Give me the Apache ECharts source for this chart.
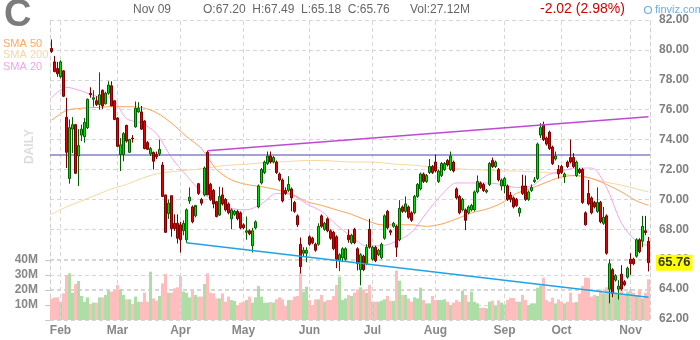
<!DOCTYPE html>
<html><head><meta charset="utf-8">
<script src="https://cdn.jsdelivr.net/npm/echarts/dist/echarts.min.js"></script>
<style>html,body{margin:0;padding:0;background:#fff}#c{width:700px;height:340px}</style>
</head><body><div id="c"></div>
<script>
// ---- data (Citigroup daily, Jan 29 – Nov 9) ----
const opens=[80.1,79.2,78.75,78.2,78.6,75.5,71.4,74.7,75.0,72.9,
74.3,74.2,74.8,77.1,76.7,76.6,76.35,77.3,76.4,77.1,
77.6,76.6,75.45,73.0,73.0,74.95,73.15,74.1,74.85,75.85,
75.85,75.25,73.8,73.05,73.15,73.0,73.05,72.3,70.3,69.05,
70.25,68.4,68.4,68.3,67.9,67.3,69.9,69.5,68.9,71.05,
70.0,70.3,73.15,71.0,70.6,69.85,68.95,70.3,70.0,69.7,
68.7,69.0,69.2,69.1,68.3,67.8,67.9,66.9,68.1,69.5,
71.1,71.8,72.4,72.9,72.5,72.5,71.7,71.3,70.6,70.6,
70.7,69.8,68.9,67.0,66.4,66.4,67.5,67.4,67.0,67.0,
68.9,68.0,68.7,67.9,67.8,67.5,65.9,66.1,66.0,67.6,
67.1,68.0,66.7,65.3,66.2,65.7,68.0,66.0,66.8,66.3,
66.1,67.4,69.2,67.9,68.2,68.2,67.3,69.5,69.2,69.5,
69.1,69.1,70.2,70.7,71.7,71.2,71.8,72.2,72.5,71.2,
71.6,72.0,72.6,72.0,72.5,70.7,70.2,69.3,69.3,69.1,
69.3,69.3,70.5,71.1,71.0,70.5,71.0,72.6,72.2,72.0,
70.9,70.9,70.9,70.3,70.1,70.0,69.1,70.9,70.9,70.0,
70.6,71.2,71.4,74.3,75.0,74.1,74.5,73.5,72.7,72.0,
72.2,71.5,72.5,72.8,72.8,71.6,72.0,72.0,69.1,70.4,
70.1,69.8,69.2,69.8,68.4,68.9,64.0,65.3,64.6,64.0,
65.0,64.5,64.8,66.0,66.0,66.2,67.3,67.2,67.9,67.20];
const closes=[79.9,78.55,78.4,79.2,76.9,73.15,74.8,75.0,71.75,73.6,
74.7,75.15,76.7,77.0,76.8,76.35,77.0,76.25,77.1,77.65,
76.25,75.35,73.55,73.65,74.4,73.9,74.0,74.05,76.1,76.1,
74.7,73.4,73.35,73.4,72.55,72.85,73.35,70.2,67.8,69.75,
68.05,68.05,67.4,67.3,68.4,69.3,70.15,68.5,69.6,70.4,
69.75,72.1,70.3,70.0,69.7,68.85,70.2,69.7,69.3,69.1,
69.3,69.2,68.7,68.1,68.1,67.9,67.7,67.9,68.5,70.9,
72.0,72.5,72.9,72.5,72.8,71.8,71.3,69.9,70.4,71.0,
70.1,69.2,68.3,65.5,66.6,66.6,67.0,67.1,66.6,68.2,
68.2,68.4,67.9,67.4,66.7,66.0,66.3,66.7,66.7,67.3,
67.6,67.1,65.7,66.3,65.3,66.8,66.8,66.8,65.9,66.6,
67.0,68.9,68.1,67.8,68.4,66.8,69.4,69.2,69.7,68.8,
68.6,70.2,71.0,71.7,71.2,71.6,72.2,71.8,71.9,71.9,
72.4,72.4,72.3,72.9,71.9,70.1,69.1,70.0,68.6,69.5,
69.6,70.5,71.2,70.8,70.6,70.6,72.4,72.2,72.5,71.3,
71.3,71.4,70.0,70.0,69.5,69.6,69.4,70.4,70.0,70.5,
70.8,71.3,73.7,74.8,74.0,73.7,73.4,72.4,72.9,71.7,
71.8,71.7,72.2,72.5,72.2,72.5,71.8,69.8,68.3,69.7,
69.1,69.5,69.8,68.5,68.8,66.4,65.7,63.7,64.9,64.2,
64.0,64.3,65.4,65.7,65.7,67.3,66.5,68.2,67.78,65.76];
const lows=[79.8,78.5,78.2,78.1,76.85,72.1,71.05,73.1,71.7,70.9,
73.9,73.8,74.7,76.8,76.2,76.25,76.0,76.05,76.35,77.0,
76.25,75.3,73.5,71.9,72.55,73.8,73.1,73.8,74.8,75.8,
74.65,73.35,73.3,72.9,72.0,72.7,72.9,70.15,67.75,68.7,
67.5,67.9,67.05,66.45,67.6,67.1,69.7,68.4,68.8,70.3,
69.6,70.2,70.3,69.9,69.4,68.8,68.9,69.6,69.2,69.0,
68.0,68.9,68.6,68.0,68.0,67.3,67.6,66.45,68.0,69.4,
71.0,71.7,72.3,72.4,72.4,71.7,71.2,69.8,70.3,70.5,
69.2,69.1,68.15,65.05,66.2,65.8,66.9,67.0,66.5,66.9,
68.1,67.9,67.8,67.3,66.6,65.4,65.2,65.8,65.9,67.1,
67.0,67.0,65.25,64.25,65.2,65.6,66.7,65.9,65.8,66.2,
66.0,67.3,68.0,67.6,68.1,66.15,67.2,69.1,69.1,68.7,
68.5,69.0,70.1,70.6,71.1,71.1,71.7,71.7,71.8,71.1,
71.5,71.9,72.2,71.9,71.8,70.0,69.0,69.2,67.95,69.0,
69.2,69.2,70.4,70.7,70.5,70.4,70.9,72.1,72.1,71.2,
70.6,70.4,69.9,69.8,69.4,69.5,68.85,70.3,69.9,69.9,
70.5,71.1,71.3,74.1,73.9,73.6,73.3,72.3,72.6,71.4,
71.7,71.1,72.1,72.4,72.1,71.5,71.7,69.7,68.25,69.6,
69.0,69.4,69.1,68.4,68.3,66.3,63.05,63.45,64.5,63.3,
63.9,64.2,64.7,64.95,65.6,66.1,66.4,66.8,67.6,65.18];
const highs=[80.7,79.6,79.2,79.3,78.65,76.8,75.35,75.5,75.05,74.7,
75.0,75.45,76.75,77.5,77.3,76.9,78.5,77.35,77.2,77.9,
77.9,76.6,75.5,74.1,74.5,75.0,74.05,74.3,76.55,76.5,
76.25,75.3,73.9,73.5,73.2,73.2,74.0,72.5,70.3,70.0,
70.25,69.0,69.0,68.5,68.6,69.4,70.8,69.6,69.5,71.1,
70.1,72.2,73.25,71.1,70.7,69.9,70.85,70.8,70.1,69.8,
69.4,69.3,69.3,69.2,68.4,68.85,68.0,68.1,68.6,71.0,
72.1,72.6,73.2,73.2,72.9,72.6,71.8,71.4,70.8,71.55,
70.8,69.9,69.0,67.45,66.8,66.8,67.6,67.5,67.1,68.4,
69.0,68.5,68.8,68.0,67.9,67.6,66.4,66.8,66.8,68.0,
67.7,68.1,66.8,66.4,66.3,67.0,68.7,66.9,66.9,66.7,
67.1,69.0,69.3,68.0,68.5,68.3,69.95,69.6,70.2,69.6,
69.2,70.3,71.1,71.8,71.8,71.7,72.7,72.3,73.0,72.0,
72.5,72.5,72.7,73.2,72.6,70.8,70.3,70.1,69.4,69.6,
69.7,70.6,71.6,71.2,71.1,70.7,72.5,72.8,72.6,72.1,
71.4,71.5,71.0,70.5,70.2,70.1,69.5,71.65,71.6,70.6,
71.0,71.5,73.8,75.1,75.2,74.2,74.6,73.6,73.2,72.3,
72.3,71.8,72.6,74.0,73.1,72.6,72.1,72.1,69.2,71.3,
70.2,69.9,70.8,69.9,69.5,69.0,66.0,65.4,65.0,64.6,
65.6,64.6,65.5,66.4,66.1,67.4,67.4,68.9,68.9,67.49];
const volumes=[14.4,15.1,15.1,12.2,17.8,30.0,31.1,18.2,24.0,26.0,
16.0,12.2,15.1,10.7,11.6,11.6,15.1,15.1,16.7,19.6,
18.9,19.6,23.3,20.4,16.7,13.8,13.8,10.7,15.6,12.2,
12.2,18.2,12.2,32.2,14.4,12.9,16.0,24.4,30.7,18.2,
18.2,21.1,21.8,29.3,18.9,18.2,15.1,20.0,16.7,15.6,
15.6,24.0,31.1,18.2,17.8,14.4,14.4,17.8,12.2,15.6,
13.3,12.7,10.0,11.6,12.2,13.3,15.6,11.6,15.1,22.7,
15.6,11.6,11.6,12.0,11.6,13.8,15.1,13.8,9.3,13.3,
13.3,15.6,16.0,31.8,18.9,22.2,13.3,10.0,13.8,13.8,
16.7,12.2,13.3,13.3,16.0,23.3,28.9,13.3,14.4,16.7,
16.0,18.2,20.4,21.8,20.4,18.2,23.3,12.2,12.2,12.2,
12.9,13.8,16.0,12.7,12.7,33.0,26.2,16.7,16.7,14.4,
12.2,15.1,14.4,21.6,13.3,11.1,11.1,16.0,13.3,13.3,
13.3,13.8,12.2,10.0,11.6,13.3,12.2,19.6,16.7,12.2,
18.9,12.2,11.1,8.0,8.2,7.8,12.2,12.9,9.8,13.1,
11.6,10.4,13.3,14.7,14.7,12.2,12.2,16.7,13.3,9.8,
11.1,11.1,21.5,23.0,28.2,13.3,12.2,14.9,11.1,13.8,
12.2,11.1,12.2,18.2,11.6,12.0,17.6,22.7,28.2,28.2,
15.6,16.7,16.0,20.4,17.8,21.8,21.1,18.9,18.2,17.8,
20.0,16.7,18.9,20.4,18.2,16.7,20.4,14.4,18.2,27.12];
// moving averages at every 5th bar
const smaIdx=[0,5,10,15,20,25,30,35,40,45,50,55,60,65,70,75,80,85,90,95,100,105,110,115,120,125,130,135,140,145,150,155,160,165,170,175,180,185,190,195,199];
const sma20=[76.8,77.5,77.25,76.9,76.8,75.4,75.1,74.4,72.8,71.6,70.5,69.8,69.4,69.3,69.7,70.4,70.3,69.7,69.2,68.3,67.5,66.9,66.9,67.2,67.8,69.1,70.3,71.1,71.1,71.1,71.0,70.8,70.9,71.6,71.9,72.1,72.1,70.8,68.4,67.2,66.9];
const sma50=[75.3,75.95,76.1,76.15,76.2,76.2,76.15,75.8,75.1,74.2,73.4,72.0,71.3,71.0,70.85,70.65,70.35,69.85,69.6,69.3,69.0,68.6,68.3,68.3,68.3,68.2,68.35,68.7,69.1,69.35,69.75,70.4,70.75,71.15,71.5,71.6,71.4,71.0,70.5,69.9,69.6];
const sma200=[69.0,69.5,69.9,70.3,70.7,71.0,71.4,71.7,71.85,71.95,72.05,72.2,72.3,72.35,72.45,72.5,72.55,72.6,72.6,72.55,72.5,72.5,72.45,72.35,72.3,72.2,72.1,72.05,72.0,71.95,71.9,71.9,71.85,71.8,71.7,71.55,71.4,71.15,70.95,70.7,70.5];
// trend lines [barIndex, price]
const trendUpper=[[52,73.25],[199,75.53]];
const trendLower=[[45,67.1],[199,63.45]];
const levelLine=73;
const lastClose=65.76;
const monthIdx=[3,22,43,64,86,107,128,151,170,193];
const monthNames=['Feb','Mar','Apr','May','Jun','Jul','Aug','Sep','Oct','Nov'];
const priceMin=62, priceMax=82, priceStep=2;
const volMax=40, volStep=10;

// ---- chart ----
const FONT='"Liberation Sans", Arial, sans-serif';
const cats=opens.map((_,i)=>i);
const monthMap={}; monthIdx.forEach((v,k)=>monthMap[v]=monthNames[k]);
const candles=opens.map((o,i)=>[o,closes[i],lows[i],highs[i]]);
const volData=volumes.map((v,i)=>({value:v,itemStyle:{color:closes[i]>=opens[i]?'#acdea6':'#ffbdbd'}}));
const pair=a=>smaIdx.map((x,k)=>[x,a[k]]);
const dash=[4,3];
const chart=echarts.init(document.getElementById('c'),null,{renderer:'canvas'});
chart.setOption({
  animation:false,
  backgroundColor:'#ffffff',
  grid:[
    {left:50,right:50,top:20,bottom:21,outerBoundsMode:'none',containLabel:false},
    {left:50,right:50,top:260,bottom:20,outerBoundsMode:'none',containLabel:false}
  ],
  xAxis:[
    {type:'category',gridIndex:0,data:cats,boundaryGap:true,
     axisLine:{show:false},axisTick:{show:false},splitLine:{show:false},
     axisLabel:{interval:(i)=>monthMap[i]!==undefined,formatter:(v,i)=>monthMap[i]||'',
       color:'#888',fontSize:12,fontWeight:'bold',fontFamily:FONT,margin:6}},
    {type:'category',gridIndex:1,data:cats,boundaryGap:true,show:false}
  ],
  yAxis:[
    {type:'value',gridIndex:0,position:'right',min:priceMin,max:priceMax,interval:priceStep,
     axisLine:{show:true,lineStyle:{color:'#cfcfcf',type:dash}},axisTick:{show:false},
     splitLine:{show:true,lineStyle:{color:'#d6d6d6',type:dash}},
     axisLabel:{color:'#808080',fontSize:12,fontWeight:'bold',fontFamily:FONT,margin:9,formatter:v=>v.toFixed(2)}},
    {type:'value',gridIndex:0,position:'left',min:priceMin,max:priceMax,
     axisLine:{show:true,lineStyle:{color:'#cfcfcf',type:dash}},axisTick:{show:false},
     splitLine:{show:false},axisLabel:{show:false}},
    {type:'value',gridIndex:1,position:'left',min:0,max:volMax,interval:volStep,
     axisLine:{show:false},axisTick:{show:true,length:5,lineStyle:{color:'#c8c8c8'}},
     splitLine:{show:true,lineStyle:{color:'#d6d6d6',type:dash}},
     axisLabel:{color:'#888',fontSize:12,fontWeight:'bold',fontFamily:FONT,margin:12,formatter:v=>v?v+'M':''}}
  ],
  series:[
    {type:'line',xAxisIndex:0,yAxisIndex:0,data:[],z:1,silent:true,
     markLine:{silent:true,symbol:'none',label:{show:false},lineStyle:{color:'#d6d6d6',type:dash,width:1},
       data:monthIdx.map(i=>({xAxis:i}))}},
    {type:'bar',xAxisIndex:1,yAxisIndex:2,data:volData,barWidth:3,z:2,silent:true},
    {type:'line',xAxisIndex:0,yAxisIndex:0,data:pair(sma200),smooth:0.3,symbol:'none',z:3,silent:true,
     lineStyle:{color:'#f5d9a2',width:1}},
    {type:'line',xAxisIndex:0,yAxisIndex:0,data:pair(sma50),smooth:0.3,symbol:'none',z:3,silent:true,
     lineStyle:{color:'#ffa258',width:1}},
    {type:'line',xAxisIndex:0,yAxisIndex:0,data:pair(sma20),smooth:0.3,symbol:'none',z:3,silent:true,
     lineStyle:{color:'#f2a8ea',width:1}},
    {type:'line',xAxisIndex:0,yAxisIndex:0,data:[],z:3,silent:true,
     markLine:{silent:true,symbol:'none',label:{show:false},lineStyle:{color:'#8484c4',type:'solid',width:1.5},
       data:[{yAxis:levelLine}]}},
    {type:'candlestick',xAxisIndex:0,yAxisIndex:0,data:candles,barWidth:2,z:5,silent:true,
     itemStyle:{color:'#00dd00',color0:'#e60000',borderColor:'#006000',borderColor0:'#7a0000',borderWidth:1}},
    {type:'line',xAxisIndex:0,yAxisIndex:0,data:trendUpper,symbol:'none',z:6,silent:true,
     lineStyle:{color:'#bd4ad2',width:1.6}},
    {type:'line',xAxisIndex:0,yAxisIndex:0,data:trendLower,symbol:'none',z:6,silent:true,
     lineStyle:{color:'#1ea4e6',width:1.6}},
    {type:'line',xAxisIndex:0,yAxisIndex:0,data:[],z:10,silent:true,
     markLine:{silent:true,symbol:'none',
       lineStyle:{color:'rgba(255,255,255,0)',width:0},
       data:[{yAxis:lastClose}],
       label:{show:true,position:'end',formatter:'65.76',backgroundColor:'#ffff00',color:'#333',opacity:1,
         fontSize:13,fontWeight:'bold',fontFamily:FONT,padding:[2,2,1,2],distance:6}}}
  ],
  graphic:[
    {type:'text',left:4,top:-3,style:{text:'C',font:'bold 38px '+FONT,fill:'#7c7c7c'}},
    {type:'text',left:3,top:38,style:{text:'SMA 50',font:'11px '+FONT,fill:'#ffa860'}},
    {type:'text',left:3,top:49,style:{text:'SMA 200',font:'11px '+FONT,fill:'#f3d8a4'}},
    {type:'text',left:3,top:61,style:{text:'SMA 20',font:'11px '+FONT,fill:'#f0a6e6'}},
    {type:'text',x:24,y:164,rotation:Math.PI/2,style:{text:'DAILY',font:'bold 12px '+FONT,fill:'#dcdcdc'}},
    {type:'text',left:133,top:4,style:{text:'Nov 09',font:'12px '+FONT,fill:'#666'}},
    {type:'text',left:203,top:4,style:{text:'O:67.20  H:67.49  L:65.18  C:65.76',font:'12px '+FONT,fill:'#666'}},
    {type:'text',left:410,top:4,style:{text:'Vol:27.12M',font:'12px '+FONT,fill:'#666'}},
    {type:'text',left:540,top:2,style:{text:'-2.02 (2.98%)',font:'14px '+FONT,fill:'#d40000'}},
    {type:'circle',shape:{cx:648,cy:10,r:3.5},style:{fill:'none',stroke:'#6aaee6',lineWidth:1.2}},
    {type:'text',left:655,top:4,style:{text:'finviz.com',font:'11px '+FONT,fill:'#6aaee6'}}
  ]
});
</script></body></html>
